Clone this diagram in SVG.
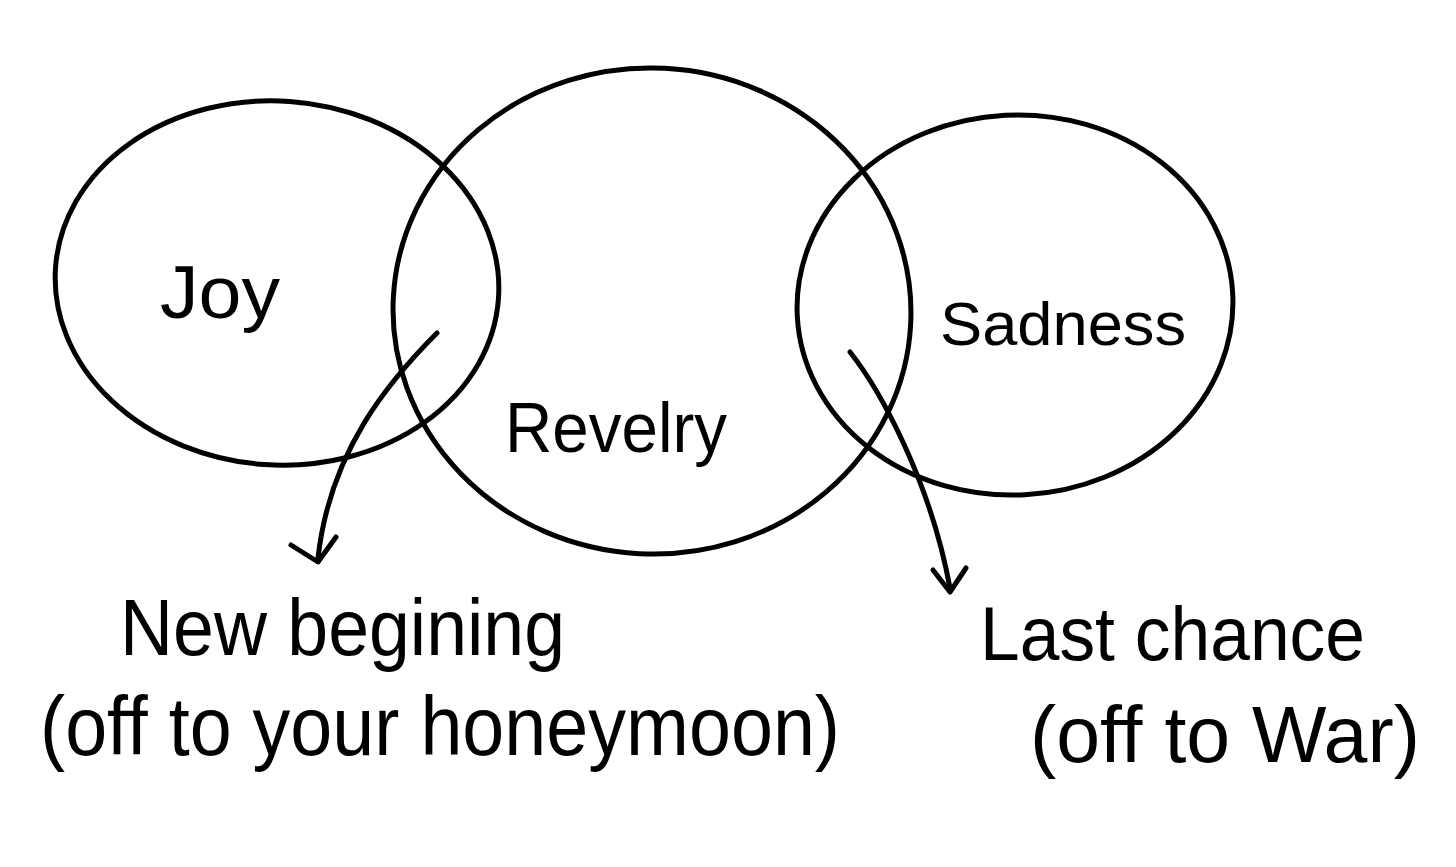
<svg xmlns="http://www.w3.org/2000/svg" width="1456" height="867" viewBox="0 0 1456 867">
<style>
.c{fill:none;stroke:#000;stroke-width:5;stroke-linecap:round;stroke-linejoin:round}
.t{font-family:"Liberation Sans","DejaVu Sans",sans-serif;fill:#000}
</style>
<rect width="1456" height="867" fill="#fff"/>
<g id="joy">
<ellipse class="c" cx="277" cy="283" rx="222" ry="182" transform="rotate(4 277 283)"/>
<text class="t" x="160" y="318" font-size="74" textLength="120" lengthAdjust="spacingAndGlyphs">Joy</text>
</g>
<g id="revelry">
<ellipse class="c" cx="652" cy="311" rx="259" ry="243" transform="rotate(3 652 311)"/>
<text class="t" x="505" y="452" font-size="70" textLength="222" lengthAdjust="spacingAndGlyphs">Revelry</text>
</g>
<g id="sadness">
<ellipse class="c" cx="1015" cy="305" rx="218" ry="190" transform="rotate(-3 1015 305)"/>
<text class="t" x="940" y="345" font-size="62" textLength="246" lengthAdjust="spacingAndGlyphs">Sadness</text>
</g>
<g id="connectors">
<path class="c" d="M437,333 C390,380 330,450 318,558"/>
<path class="c" d="M291,545 L318,562 L336,537"/>
<path class="c" d="M850,352 C880,390 930,480 950,588"/>
<path class="c" d="M933,570 L950,592 L966,568"/>
</g>
<g id="label-new">
<text class="t" x="120" y="655" font-size="80" textLength="445" lengthAdjust="spacingAndGlyphs">New begining</text>
<text class="t" x="40" y="755" font-size="84" textLength="800" lengthAdjust="spacingAndGlyphs">(off to your honeymoon)</text>
</g>
<g id="label-last">
<text class="t" x="980" y="660" font-size="76" textLength="385" lengthAdjust="spacingAndGlyphs">Last chance</text>
<text class="t" x="1030" y="762" font-size="80" textLength="390" lengthAdjust="spacingAndGlyphs">(off to War)</text>
</g>
</svg>
